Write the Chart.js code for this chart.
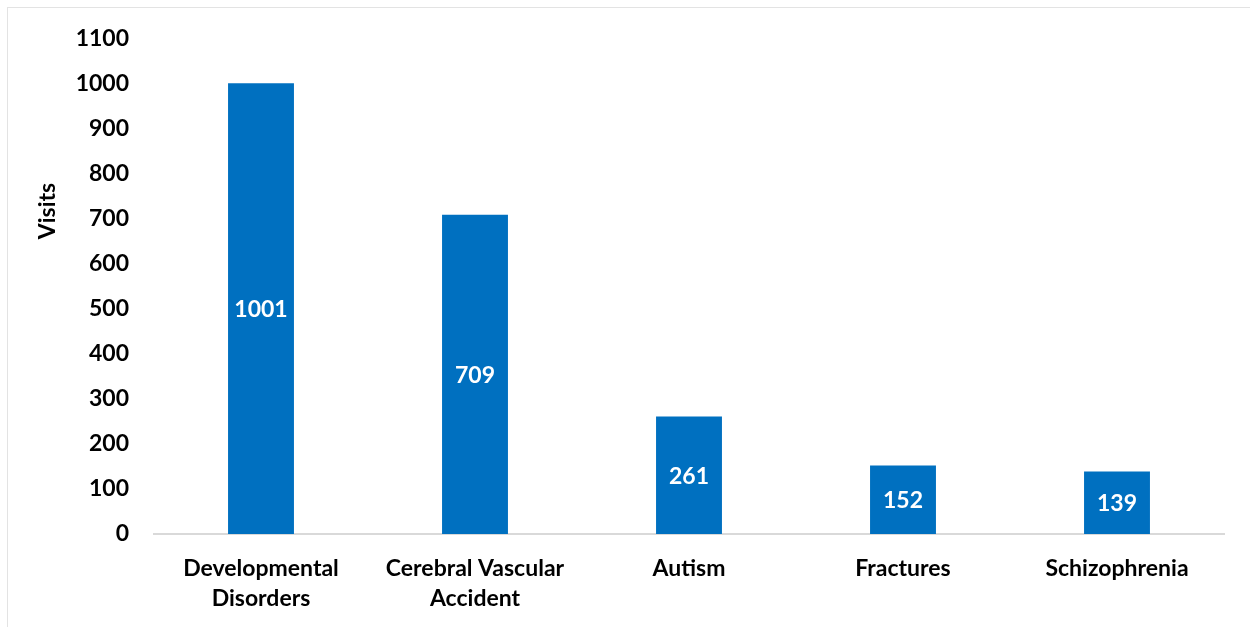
<!DOCTYPE html>
<html>
<head>
<meta charset="utf-8">
<script src="https://cdn.jsdelivr.net/npm/chart.js@4.4.1/dist/chart.umd.min.js"></script>
<style>
  html, body { margin: 0; padding: 0; background: #fff; }
  #wrap { position: relative; width: 1250px; height: 627px; overflow: hidden; }
  #marco { position: absolute; left: 7px; top: 7px; width: 1300px; height: 700px; border: 1px solid #e3e3e3; pointer-events: none; }
</style>
</head>
<body>
<div id="wrap">
  <canvas id="grafico1" width="1250" height="627"></canvas>
  <div id="marco"></div>
</div>
<script>
// datos
const categorias = [
  ['Developmental', 'Disorders'],
  ['Cerebral Vascular', 'Accident'],
  'Autism',
  'Fractures',
  'Schizophrenia'
];
const visitas = [1001, 709, 261, 152, 139];
const ejeY = { min: 0, max: 1100, paso: 100 };
const tituloY = 'Visits';

const fuente = { family: 'Lato', weight: 'bold', size: 23 };

// etiquetas blancas en el centro de cada barra
const etiquetasBarras = {
  id: 'etiquetasBarras',
  afterDatasetsDraw(chart) {
    const ctx = chart.ctx;
    ctx.save();
    ctx.fillStyle = '#fff';
    ctx.font = `bold ${fuente.size}px ${fuente.family}`;
    ctx.textAlign = 'center';
    ctx.textBaseline = 'middle';
    chart.getDatasetMeta(0).data.forEach((barra, i) => {
      ctx.fillText(visitas[i], barra.x, (barra.y + barra.base) / 2 + 1);
    });
    ctx.restore();
  }
};

// titulo del eje y (Excel lo deja arriba del centro)
const tituloEje = {
  id: 'tituloEje',
  afterDraw(chart) {
    const ctx = chart.ctx;
    ctx.save();
    ctx.translate(48, 211);
    ctx.rotate(-Math.PI / 2);
    ctx.fillStyle = '#000';
    ctx.font = `bold ${fuente.size}px ${fuente.family}`;
    ctx.textAlign = 'center';
    ctx.textBaseline = 'middle';
    ctx.fillText(tituloY, 0, 0);
    ctx.restore();
  }
};

const Grafico = document.getElementById('grafico1').getContext('2d');

window.graficaVisitas = new Chart(Grafico, {
  type: 'bar',
  data: {
    labels: categorias,
    datasets: [{
      data: visitas,
      backgroundColor: '#0070C0',
      categoryPercentage: 1,
      barPercentage: 0.308
    }]
  },
  options: {
    responsive: false,
    animation: false,
    layout: { padding: { top: 35, right: 26, left: 0, bottom: 0 } },
    plugins: {
      legend: { display: false },
      tooltip: { enabled: false }
    },
    scales: {
      x: {
        grid: { display: false, drawTicks: false },
        border: { display: true, color: '#d9d9d9', width: 2 },
        ticks: { color: '#000', font: { ...fuente, lineHeight: 1.3 }, padding: 20, maxRotation: 0, autoSkip: false },
        afterFit(scale) { scale.height = 93; }
      },
      y: {
        min: ejeY.min,
        max: ejeY.max,
        grid: { display: false, drawTicks: false },
        border: { display: false },
        ticks: {
          stepSize: ejeY.paso, color: '#000', font: fuente, padding: 25,
          callback: v => String(v)
        },
        afterFit(scale) { scale.width = 154; }
      }
    }
  },
  plugins: [etiquetasBarras, tituloEje]
});
</script>
</body>
</html>
